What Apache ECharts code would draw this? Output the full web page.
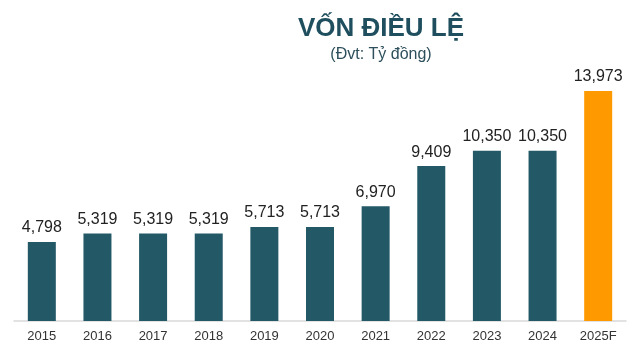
<!DOCTYPE html>
<html lang="vi">
<head>
    <meta charset="UTF-8">
    <title>Vốn điều lệ</title>
    <script src="https://cdn.jsdelivr.net/npm/echarts@6/dist/echarts.min.js"></script>
    <style>
        html, body { margin: 0; padding: 0; background: #fff; }
        #chart { width: 640px; height: 354px; }
    </style>
</head>
<body>
    <div id="chart"></div>
    <script>
        // dữ liệu
        const years = ['2015', '2016', '2017', '2018', '2019', '2020', '2021', '2022', '2023', '2024', '2025F'];
        const capital = [4798, 5319, 5319, 5319, 5713, 5713, 6970, 9409, 10350, 10350, 13973];
        const forecastYear = '2025F';

        const teal = '#235966';
        const orange = '#ff9900';

        const myChart = echarts.init(document.getElementById('chart'));

        const option = {
            animation: false,
            title: {
                text: 'VỐN ĐIỀU LỆ',
                subtext: '(Đvt: Tỷ đồng)',
                left: 376,
                top: 11,
                textAlign: 'center',
                itemGap: 5,
                textStyle: {
                    fontFamily: 'Liberation Sans, Arial, sans-serif',
                    fontSize: 26,
                    fontWeight: 'bold',
                    color: '#1f4f5e'
                },
                subtextStyle: {
                    fontFamily: 'Liberation Sans, Arial, sans-serif',
                    fontSize: 16,
                    color: '#2d4f5b'
                }
            },
            grid: {
                left: 14,
                right: 14,
                top: 91,
                bottom: 33
            },
            xAxis: {
                type: 'category',
                data: years,
                axisTick: { show: false },
                axisLine: { lineStyle: { color: '#d9d9d9', width: 1.5 } },
                axisLabel: {
                    fontFamily: 'Liberation Sans, Arial, sans-serif',
                    fontSize: 13,
                    color: '#333',
                    margin: 9
                }
            },
            yAxis: {
                type: 'value',
                min: 0,
                max: 13973,
                show: false,
                splitLine: { show: false }
            },
            series: [{
                type: 'bar',
                barWidth: 28,
                data: capital.map((v, i) => ({
                    value: v,
                    itemStyle: { color: years[i] === forecastYear ? orange : teal }
                })),
                label: {
                    show: true,
                    position: 'top',
                    distance: 6,
                    fontFamily: 'Liberation Sans, Arial, sans-serif',
                    fontSize: 16,
                    color: '#222',
                    formatter: p => p.value.toLocaleString('en-US')
                }
            }]
        };

        myChart.setOption(option);
    </script>
</body>
</html>
